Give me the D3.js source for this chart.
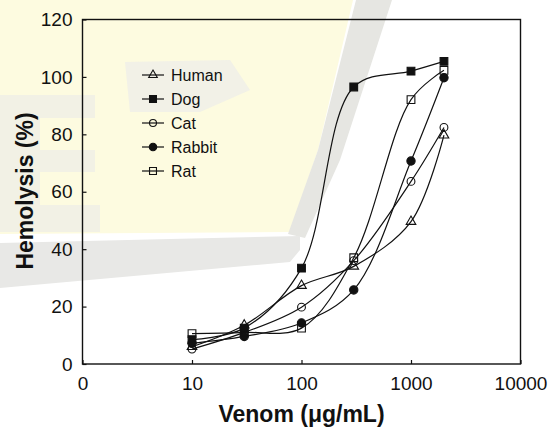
<!DOCTYPE html>
<html><head><meta charset="utf-8">
<script src="https://cdn.jsdelivr.net/npm/d3@7"></script>
<style>body{margin:0;background:#fff}svg{display:block}</style>
</head><body>
<svg id="c" width="558" height="427"></svg>
<script>
// ---- data ----
const concentrations = [10, 30, 100, 300, 1000, 2000];
const human  = [6.0, 13.5, 27.3, 34.0, 49.6, 79.7];
const dog    = [8.5, 12.5, 33.4, 96.5, 102.0, 105.4];
const cat    = [5.2, 11.0, 19.8, 36.0, 63.6, 82.4];
const rabbit = [7.2, 9.6, 14.3, 25.8, 70.7, 99.7];
const rat    = [10.6, 11.0, 12.5, 37.0, 92.1, 102.3];
const seriesNames = ["Human", "Dog", "Cat", "Rabbit", "Rat"];
const xTicks = [1, 10, 100, 1000, 10000];
const xTickLabels = ["0", "10", "100", "1000", "10000"];
const yTicks = [0, 20, 40, 60, 80, 100, 120];

const seriesValues = [human, dog, cat, rabbit, rat];
const markerStyle = [
  {type: d3.symbolTriangle, size: 40, fill: "none"},
  {type: d3.symbolSquare, size: 60, fill: "#111"},
  {type: d3.symbolCircle, size: 48, fill: "none"},
  {type: d3.symbolCircle, size: 54, fill: "#111"},
  {type: d3.symbolSquare, size: 60, fill: "none"}
];

const svg = d3.select("#c");
const font = "'Liberation Sans', Arial, Helvetica, sans-serif";

// watermark-like background
svg.append("path").attr("d", "M0,0 L353,0 L318,150 L290,232 L0,234 Z").attr("fill", "#fdfbe0");
svg.append("path").attr("d", "M0,95 L95,95 L95,118 L40,118 L40,150 L95,150 L95,172 L40,172 L40,205 L100,205 L100,232 L0,232 Z").attr("fill", "#efefe6").attr("opacity", 0.8);
svg.append("path").attr("d", "M125,62 L230,60 L250,90 L200,112 L130,112 Z").attr("fill", "#ececea").attr("opacity", 0.7);
svg.append("path").attr("d", "M356,0 L392,0 L340,160 L305,238 L288,234 L318,150 Z").attr("fill", "#e6e6e2");
svg.append("path").attr("d", "M0,243 L300,236 L300,250 L290,262 L0,288 Z").attr("fill", "#e8e8e6");

const x = d3.scaleLog().domain([1, 10000]).range([82.5, 520.5]);
const y = d3.scaleLinear().domain([0, 120]).range([364, 19.5]);

// frame
svg.append("rect").attr("x", 82.5).attr("y", 19.5).attr("width", 438).attr("height", 344.5)
  .attr("fill", "none").attr("stroke", "#111").attr("stroke-width", 1.4);

// axes
const xAxis = d3.axisBottom(x).tickValues(xTicks).tickSize(-4).tickPadding(13)
  .tickFormat((d, i) => xTickLabels[i]);
const gx = svg.append("g").attr("transform", "translate(0,364)").call(xAxis);
const yAxis = d3.axisLeft(y).tickValues(yTicks).tickSize(-4).tickPadding(10);
const gy = svg.append("g").attr("transform", "translate(82.5,0)").call(yAxis);
[gx, gy].forEach(g => {
  g.select(".domain").remove();
  g.selectAll(".tick line").attr("stroke", "#111").attr("stroke-width", 1.2);
  g.selectAll(".tick text").attr("fill", "#111").style("font-family", font).style("font-size", "19px");
});

// lines
const line = d3.line().x((d, i) => x(concentrations[i])).y(d => y(d)).curve(d3.curveCatmullRom.alpha(0.5));
seriesValues.forEach((vals, s) => {
  svg.append("path").attr("d", line(vals)).attr("fill", "none").attr("stroke", "#111").attr("stroke-width", 1.2);
});
seriesValues.forEach((vals, s) => {
  const m = markerStyle[s];
  svg.append("g").selectAll("path").data(vals).join("path")
    .attr("transform", (d, i) => `translate(${x(concentrations[i])},${y(d)})`)
    .attr("d", d3.symbol().type(m.type).size(m.size))
    .attr("fill", m.fill).attr("stroke", "#111").attr("stroke-width", 1.1);
});

// legend
const legend = svg.append("g");
seriesNames.forEach((name, s) => {
  const ly = 75 + s * 24;
  const m = markerStyle[s];
  legend.append("line").attr("x1", 142).attr("x2", 164).attr("y1", ly).attr("y2", ly).attr("stroke", "#111").attr("stroke-width", 1.2);
  legend.append("path").attr("transform", `translate(153,${ly})`)
    .attr("d", d3.symbol().type(m.type).size(m.size * 0.8)).attr("fill", m.fill).attr("stroke", "#111").attr("stroke-width", 1.1);
  legend.append("text").attr("x", 171).attr("y", ly + 6).text(name)
    .style("font-family", font).style("font-size", "16px").attr("fill", "#111");
});

// axis titles
svg.append("text").attr("x", 301.5).attr("y", 422).attr("text-anchor", "middle")
  .style("font-family", font).style("font-size", "23px").style("font-weight", "bold").attr("fill", "#111")
  .text("Venom (μg/mL)");
svg.append("text").attr("transform", "translate(33,191) rotate(-90)").attr("text-anchor", "middle")
  .style("font-family", font).style("font-size", "23px").style("font-weight", "bold").attr("fill", "#111")
  .text("Hemolysis (%)");
</script>
</body></html>
